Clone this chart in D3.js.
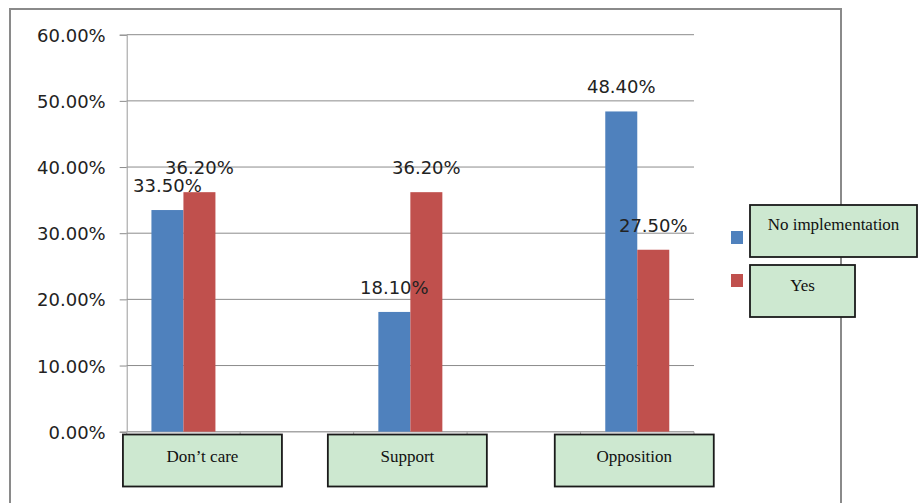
<!DOCTYPE html>
<html>
<head>
<meta charset="utf-8">
<script src="https://cdn.jsdelivr.net/npm/d3@7/dist/d3.min.js"></script>
<style>
  html, body { margin: 0; padding: 0; background: #fff; }
  svg { display: block; }
</style>
</head>
<body>
<script>
// Survey responses by attitude, split by implementation status
const categories = ["Don\u2019t care", "Support", "Opposition"];
const seriesNames = ["No implementation", "Yes"];
const noImplementation = [0.335, 0.181, 0.484];
const yes = [0.362, 0.362, 0.275];
const yTicks = [0, 0.1, 0.2, 0.3, 0.4, 0.5, 0.6];
const seriesColors = ["#4f81bd", "#c0504d"];

const W = 918, H = 503;
const svg = d3.select("body").append("svg").attr("width", W).attr("height", H);

// outer frame
svg.append("path")
  .attr("d", "M10,520 V9 H841 V520")
  .attr("fill", "none").attr("stroke", "#8a8a8a").attr("stroke-width", 2);

const plot = { left: 126.7, right: 694, top: 34.7, bottom: 431.7 };

const y = d3.scaleLinear().domain([0, 0.6]).range([plot.bottom, plot.top]);
const x = d3.scalePoint().domain(categories).range([plot.left, plot.right]).padding(0.25);
const xs = d3.scaleBand().domain(seriesNames).range([-32, 32]);

// horizontal gridlines
svg.append("g").selectAll("line").data(yTicks.slice(1)).join("line")
  .attr("x1", plot.left).attr("x2", plot.right)
  .attr("y1", d => y(d)).attr("y2", d => y(d))
  .attr("stroke", "#8c8c8c").attr("stroke-width", 1);

// y axis
const yAxis = svg.append("g").attr("transform", `translate(${plot.left},0)`)
  .call(d3.axisLeft(y).tickValues(yTicks).tickFormat(d3.format(".2%")).tickSize(7).tickPadding(14));
yAxis.select(".domain").attr("stroke", "#9a9a9a");
yAxis.selectAll(".tick line").attr("stroke", "#8c8c8c");
yAxis.selectAll(".tick text")
  .attr("font-family", "DejaVu Sans").attr("font-size", 18).attr("fill", "#222")
  .attr("dy", "0.36em");

// x axis line with division ticks
const xDivs = d3.range(6).map(i => plot.left + i * (plot.right - plot.left) / 5);
svg.append("line").attr("x1", plot.left).attr("x2", plot.right)
  .attr("y1", plot.bottom).attr("y2", plot.bottom)
  .attr("stroke", "#a6a6a6").attr("stroke-width", 1.5);
svg.append("g").selectAll("line").data(xDivs).join("line")
  .attr("x1", d => d).attr("x2", d => d)
  .attr("y1", plot.bottom).attr("y2", plot.bottom + 5)
  .attr("stroke", "#a6a6a6");

// bars
const rows = categories.map((c, i) => ({
  cat: c,
  vals: [{ s: seriesNames[0], v: noImplementation[i], k: 0 }, { s: seriesNames[1], v: yes[i], k: 1 }]
}));
const groups = svg.append("g").selectAll("g").data(rows).join("g")
  .attr("transform", d => `translate(${x(d.cat)},0)`);
groups.selectAll("rect").data(d => d.vals).join("rect")
  .attr("x", d => xs(d.s)).attr("width", xs.bandwidth())
  .attr("y", d => y(d.v)).attr("height", d => plot.bottom - y(d.v))
  .attr("fill", d => seriesColors[d.k]);

// value labels
groups.selectAll("text").data(d => d.vals).join("text")
  .attr("x", d => xs(d.s) + xs.bandwidth() / 2)
  .attr("y", d => y(d.v) - 18)
  .attr("text-anchor", "middle")
  .attr("font-family", "DejaVu Sans").attr("font-size", 18).attr("fill", "#222")
  .text(d => d3.format(".2%")(d.v));

// category name boxes below the axis
const boxShift = [19, -3, -3];
const catBox = svg.append("g").selectAll("g").data(categories).join("g")
  .attr("transform", (d, i) => `translate(${x(d) + boxShift[i]},0)`);
catBox.append("rect")
  .attr("x", -79.5).attr("y", 434.5).attr("width", 159).attr("height", 52)
  .attr("fill", "#cde8d0").attr("stroke", "#1a1a1a").attr("stroke-width", 1.8);
catBox.append("text")
  .attr("x", 0).attr("y", 462)
  .attr("text-anchor", "middle")
  .attr("font-family", "Liberation Serif").attr("font-size", 17).attr("fill", "#111")
  .text(d => d);

// legend
const legendItems = [
  { name: seriesNames[0], color: seriesColors[0], box: [750, 205, 167, 52], sq: 231, ty: 230 },
  { name: seriesNames[1], color: seriesColors[1], box: [750, 265, 105, 52], sq: 274, ty: 291 }
];
const lg = svg.append("g").selectAll("g").data(legendItems).join("g");
lg.append("rect")
  .attr("x", d => d.box[0]).attr("y", d => d.box[1])
  .attr("width", d => d.box[2]).attr("height", d => d.box[3])
  .attr("fill", "#cde8d0").attr("stroke", "#1a1a1a").attr("stroke-width", 1.8);
lg.append("rect")
  .attr("x", 731).attr("y", d => d.sq).attr("width", 12).attr("height", 13)
  .attr("fill", d => d.color);
lg.append("text")
  .attr("x", d => d.box[0] + d.box[2] / 2).attr("y", d => d.ty)
  .attr("text-anchor", "middle")
  .attr("font-family", "Liberation Serif").attr("font-size", 17).attr("fill", "#111")
  .text(d => d.name);
</script>
</body>
</html>
